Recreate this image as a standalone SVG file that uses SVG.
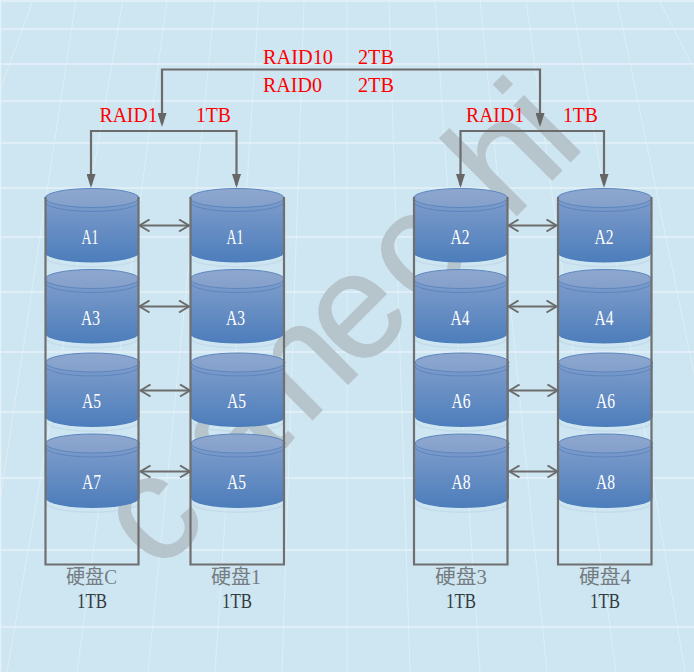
<svg xmlns="http://www.w3.org/2000/svg" width="694" height="672" viewBox="0 0 694 672">
<style>
.h{stroke:#e6f2f9;stroke-width:1.4;fill:none}
.v{stroke:#e4f1f8;stroke-width:1;fill:none;opacity:.7}
.wm{font-family:"Liberation Sans",Arial,sans-serif;font-size:150px;fill:#b6c4cc;stroke:#b6c4cc;stroke-width:1.5}
.r{font-family:"Liberation Serif","Noto Sans CJK SC",serif;font-size:22px;fill:#ff0000}
.d{font-family:"Liberation Serif",serif;font-size:20px;fill:#ffffff;text-anchor:middle}
.n{font-family:"Liberation Serif","Noto Sans CJK SC",sans-serif;font-size:20px;fill:#757d82}
.c{font-family:"Liberation Serif",serif;font-size:20px;fill:#333b40}
.frame{fill:none;stroke:#6f6f6f;stroke-width:2.2}
.line{fill:none;stroke:#6c6c6c;stroke-width:2.2;marker-end:url(#tri)}
.both{marker-start:url(#tri)}
.dbl{fill:none;stroke:#6c6c6c;stroke-width:2;marker-start:url(#open);marker-end:url(#open)}
</style>
<defs>
<linearGradient id="side" x1="0" y1="0" x2="0" y2="1"><stop offset="0" stop-color="#7f9dcb"/><stop offset="1" stop-color="#4c7dbb"/></linearGradient>
<linearGradient id="top" x1="0" y1="0" x2="0" y2="1"><stop offset="0" stop-color="#8ea7cf"/><stop offset="1" stop-color="#83a0cb"/></linearGradient>
<marker id="tri" markerUnits="userSpaceOnUse" markerWidth="14" markerHeight="9" refX="11" refY="4.5" viewBox="0 0 14 9" orient="auto-start-reverse"><path d="M0,0L14,4.500L0,9Z" fill="#666666"/></marker>
<marker id="open" markerUnits="userSpaceOnUse" markerWidth="13" markerHeight="14" refX="11" refY="7" viewBox="0 0 13 14" orient="auto-start-reverse"><path d="M1,1L11,7L1,13" fill="none" stroke="#6c6c6c" stroke-width="2"/></marker>
<g id="disk">
<path d="M1,66 A46,9.500 0 0 0 93,66 L93,68 A46,9 0 0 1 1,68Z" fill="#b3c9da" opacity=".35" transform="translate(0,2)"/>
<path d="M0,9.500 V64 A47,10 0 0 0 94,64 V9.500Z" fill="url(#side)"/>
<ellipse cx="47" cy="9.500" rx="47" ry="9.500" fill="url(#top)" stroke="#5c86bf" stroke-width="1"/>
<path d="M0,13 A47,10 0 0 0 94,13" fill="none" stroke="#5c86bf" stroke-width="1"/>
</g>
</defs>
<g id="background">
<rect width="694" height="672" fill="#cee6f2"/>
<path class="h" d="M0,1H694M0,29H694M0,64H694M0,101H694M0,143H694M0,188H694M0,237H694M0,292H694M0,352H694M0,412H694M0,478H694M0,550H694M0,627H694M.5,0V672"/>
<path class="v" d="M33,0L-40,200M76,0L-26,672M123,0L7,672M167,0L77,672M215,0L148,672M259,0L215,672M304,0L282,672M347,0V672M389,0L410,672M435,0L480,672M480,0L547,672M526,0L616,672M572,0L685,672M617,0L720,500M659,0L720,120"/>
<text class="wm" transform="translate(157.700,574.300) rotate(-45)" x="0 109.500 208.500 282.800 372 497.500 574">canechi</text>
</g>
<g id="disks">
<g id="disk-c1"><use href="#disk" x="45" y="188.500"/><text class="d" x="90" y="244" textLength="17" lengthAdjust="spacingAndGlyphs">A1</text></g>
<g id="disk-c3"><use href="#disk" x="45" y="269.500"/><text class="d" x="90.500" y="325" textLength="19" lengthAdjust="spacingAndGlyphs">A3</text></g>
<g id="disk-c5"><use href="#disk" x="45.500" y="353"/><text class="d" x="91.500" y="408" textLength="19" lengthAdjust="spacingAndGlyphs">A5</text></g>
<g id="disk-c7"><use href="#disk" x="45.500" y="434"/><text class="d" x="91.500" y="489" textLength="19" lengthAdjust="spacingAndGlyphs">A7</text></g>
<g id="disk-1a1"><use href="#disk" x="190" y="188.500"/><text class="d" x="235" y="244" textLength="17" lengthAdjust="spacingAndGlyphs">A1</text></g>
<g id="disk-1a3"><use href="#disk" x="190" y="269.500"/><text class="d" x="235.500" y="325" textLength="19" lengthAdjust="spacingAndGlyphs">A3</text></g>
<g id="disk-1a5"><use href="#disk" x="191" y="353"/><text class="d" x="236.500" y="408" textLength="19" lengthAdjust="spacingAndGlyphs">A5</text></g>
<g id="disk-1a5b"><use href="#disk" x="191" y="434"/><text class="d" x="236.500" y="489" textLength="19" lengthAdjust="spacingAndGlyphs">A5</text></g>
<g id="disk-3a2"><use href="#disk" x="413.500" y="188.500"/><text class="d" x="460" y="244" textLength="19" lengthAdjust="spacingAndGlyphs">A2</text></g>
<g id="disk-3a4"><use href="#disk" x="413.500" y="269.500"/><text class="d" x="460" y="325" textLength="19" lengthAdjust="spacingAndGlyphs">A4</text></g>
<g id="disk-3a6"><use href="#disk" x="415" y="353"/><text class="d" x="461" y="408" textLength="19" lengthAdjust="spacingAndGlyphs">A6</text></g>
<g id="disk-3a8"><use href="#disk" x="415" y="434"/><text class="d" x="461" y="489" textLength="19" lengthAdjust="spacingAndGlyphs">A8</text></g>
<g id="disk-4a2"><use href="#disk" x="557.500" y="188.500"/><text class="d" x="604" y="244" textLength="19" lengthAdjust="spacingAndGlyphs">A2</text></g>
<g id="disk-4a4"><use href="#disk" x="557.500" y="269.500"/><text class="d" x="604" y="325" textLength="19" lengthAdjust="spacingAndGlyphs">A4</text></g>
<g id="disk-4a6"><use href="#disk" x="558.500" y="353"/><text class="d" x="605.500" y="408" textLength="19" lengthAdjust="spacingAndGlyphs">A6</text></g>
<g id="disk-4a8"><use href="#disk" x="558.500" y="434"/><text class="d" x="605.500" y="489" textLength="19" lengthAdjust="spacingAndGlyphs">A8</text></g>
</g>
<g id="drive-c"><path class="frame" d="M45.500,197V564.500H138.500V197"/><text class="n" x="66" y="584" textLength="51" lengthAdjust="spacingAndGlyphs">硬盘C</text><text class="c" x="77" y="608" textLength="30" lengthAdjust="spacingAndGlyphs">1TB</text></g>
<g id="drive-1"><path class="frame" d="M190.500,197V564.500H284V197"/><text class="n" x="211" y="584" textLength="50" lengthAdjust="spacingAndGlyphs">硬盘1</text><text class="c" x="222" y="608" textLength="30" lengthAdjust="spacingAndGlyphs">1TB</text></g>
<g id="drive-3"><path class="frame" d="M414,197V564.500H507.500V197"/><text class="n" x="435" y="584" textLength="52" lengthAdjust="spacingAndGlyphs">硬盘3</text><text class="c" x="446" y="608" textLength="30" lengthAdjust="spacingAndGlyphs">1TB</text></g>
<g id="drive-4"><path class="frame" d="M558,197V564.500H651.500V197"/><text class="n" x="579" y="584" textLength="52" lengthAdjust="spacingAndGlyphs">硬盘4</text><text class="c" x="590" y="608" textLength="30" lengthAdjust="spacingAndGlyphs">1TB</text></g>
<g id="connectors">
<path class="line both" d="M162,124V69.500H540V124"/>
<path class="line both" d="M91,185V131H236.500V185"/>
<path class="line both" d="M460.500,185V131H604V185"/>
<path class="dbl" d="M139.500,225.500H189"/>
<path class="dbl" d="M139.500,306.500H189"/>
<path class="dbl" d="M140.500,390.500H190"/>
<path class="dbl" d="M140.500,471.500H190"/>
<path class="dbl" d="M508.500,225.500H556.500"/>
<path class="dbl" d="M508.500,306.500H556.500"/>
<path class="dbl" d="M509.500,390.500H557.500"/>
<path class="dbl" d="M509.500,471.500H557.500"/>
</g>
<g id="labels">
<text class="r" x="263" y="64" textLength="70" lengthAdjust="spacingAndGlyphs">RAID10</text>
<text class="r" x="358" y="64" textLength="36" lengthAdjust="spacingAndGlyphs">2TB</text>
<text class="r" x="263" y="92" textLength="59" lengthAdjust="spacingAndGlyphs">RAID0</text>
<text class="r" x="358" y="92" textLength="36" lengthAdjust="spacingAndGlyphs">2TB</text>
<text class="r" x="99.500" y="122" textLength="58" lengthAdjust="spacingAndGlyphs">RAID1</text>
<text class="r" x="196" y="122" textLength="35" lengthAdjust="spacingAndGlyphs">1TB</text>
<text class="r" x="466" y="122" textLength="58" lengthAdjust="spacingAndGlyphs">RAID1</text>
<text class="r" x="563" y="122" textLength="35" lengthAdjust="spacingAndGlyphs">1TB</text>
</g>
</svg>
